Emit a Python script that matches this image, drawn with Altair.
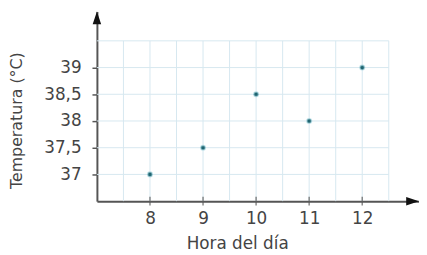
import altair as alt
import pandas as pd

# Data
hours = [8, 9, 10, 11, 12]
temps = [37, 37.5, 38.5, 38, 39]
x_ticks = [8, 9, 10, 11, 12]
y_ticks = [37, 37.5, 38, 38.5, 39]
grid_x = [7.5, 8, 8.5, 9, 9.5, 10, 10.5, 11, 11.5, 12, 12.5]
grid_y = [37, 37.5, 38, 38.5, 39, 39.5]
x_min, x_grid_max, x_max = 7, 12.5, 13.07
y_min, y_grid_max, y_max = 36.5, 39.5, 40.05

FONT = "DejaVu Sans"
TXT = "#444444"
AX = "#555555"
GRID = "#d6e8f0"

xs = alt.Scale(domain=[x_min, x_max], nice=False, zero=False)
ys = alt.Scale(domain=[y_min, y_max], nice=False, zero=False)

X_AXIS = alt.Axis(
    values=x_ticks,
    domain=True,
    domainColor=AX,
    domainWidth=2,
    ticks=False,
    grid=False,
    labelPadding=10,
    labelFont=FONT,
    labelFontSize=17,
    labelColor=TXT,
    title="Hora del día",
    titleFont=FONT,
    titleFontSize=17,
    titleFontWeight="normal",
    titleColor=TXT,
    titleX=142,
    titleY=43,
    titleBaseline="middle",
    titleAlign="center",
)
Y_AXIS = alt.Axis(
    values=y_ticks,
    domain=True,
    domainColor=AX,
    domainWidth=2,
    ticks=True,
    tickSize=5,
    tickWidth=1.5,
    tickColor=AX,
    grid=False,
    labelPadding=11,
    labelFont=FONT,
    labelFontSize=17,
    labelColor=TXT,
    labelExpr="replace(format(datum.value, '.1~f'), '.', ',')",
    title="Temperatura (°C)",
    titleFont=FONT,
    titleFontSize=16,
    titleFontWeight="normal",
    titleColor=TXT,
    titleX=-81,
    titleY=110,
    titleBaseline="middle",
    titleAlign="center",
    titleAngle=270,
)

pts = pd.DataFrame({"x": hours, "y": temps})
gx = pd.DataFrame({"x": grid_x, "y": y_min, "y2": y_grid_max})
gy = pd.DataFrame({"y": grid_y, "x": x_min, "x2": x_grid_max})
xt = pd.DataFrame({"x": x_ticks, "y": y_min})


def X():
    return alt.X("x:Q", scale=xs, axis=X_AXIS)


def Y():
    return alt.Y("y:Q", scale=ys, axis=Y_AXIS)


vgrid = alt.Chart(gx).mark_rule(color=GRID, strokeWidth=1).encode(x=X(), y=Y(), y2="y2:Q")
hgrid = alt.Chart(gy).mark_rule(color=GRID, strokeWidth=1).encode(y=Y(), x=X(), x2="x2:Q")

arrow_up = alt.Chart(pd.DataFrame({"x": [x_min], "y": [y_max]})).mark_point(
    shape="M0,0L0.33,1L-0.33,1Z", filled=True, opacity=1, color="#111111", size=676
).encode(x=X(), y=Y())
arrow_right = alt.Chart(pd.DataFrame({"x": [x_max], "y": [y_min]})).mark_point(
    shape="M0,0L-1,-0.33L-1,0.33Z", filled=True, opacity=1, color="#111111", size=676
).encode(x=X(), y=Y())

xticks = alt.Chart(xt).mark_tick(orient="vertical", color=AX, thickness=1.5, size=9).encode(x=X(), y=Y())

points = alt.Chart(pts).mark_circle(
    color="#1f6470", opacity=1, size=22, stroke="#9fd0da", strokeWidth=1.5, strokeOpacity=0.6
).encode(x=X(), y=Y())

chart = alt.layer(vgrid, hgrid, xticks, arrow_up, arrow_right, points).properties(
    width=326,
    height=192,
    background="white",
    autosize=alt.AutoSizeParams(type="none"),
    padding={"left": 90, "top": 2, "right": 0, "bottom": 52},
).configure_view(strokeWidth=0, stroke=None)

chart.save("out.html", embed_options={"renderer": "svg", "actions": False})
